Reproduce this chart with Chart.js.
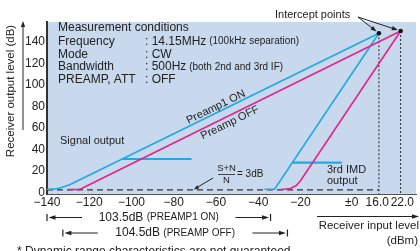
<!DOCTYPE html>
<html><head><meta charset="utf-8">
<script src="https://cdn.jsdelivr.net/npm/chart.js@4/dist/chart.umd.min.js"></script>
<style>html,body{margin:0;padding:0;background:#fff;overflow:hidden}</style>
</head><body>
<canvas id="c" width="420" height="251"></canvas>
<script>
// ---------- data ----------
const X_TICKS = [-140, -120, -100, -80, -60, -40, -20, 0, 16, 22];
const X_TICK_LABELS = ['\u2212140','\u2212120','\u2212100','\u221280','\u221260','\u221240','\u221220','\u00b10','16.0 ',' 22.0'];
const Y_TICKS = [0, 20, 40, 60, 80, 100, 120, 140];

const SIG_ON_X = [-140, -137.2, -134.4, -131.6, -128.8, -126.4, 16];
const SIG_ON_Y = [3.0, 3.1, 3.9, 5.5, 7.7, 10.0, 148.3];
const SIG_OFF_X = [-130.2, -125.0, -123.6, -122.2, 22];
const SIG_OFF_Y = [2.8, 2.8, 3.7, 5.1, 150.4];
const IMD_ON_X = [-37.1, -32.3, 16];
const IMD_ON_Y = [3.0, 3.0, 148.3];
const IMD_OFF_X = [-29.0, -24.8, -22.0, -20.1, 22];
const IMD_OFF_Y = [2.8, 3.7, 6.5, 10.7, 150.4];
const SIG_LEVEL_X = [-104.4, -71.6];
const SIG_LEVEL_Y = 31.2;
const IMD_LEVEL_X = [-23.9, -3.9];
const IMD_LEVEL_Y = 27.8;
const NOISE_X = [-140, 16];
const NOISE_Y = 2.4;
const INTERCEPT_X = [16, 22];
const INTERCEPT_Y = [148.3, 150.4];
const RANGE_ON = [-140, -34.2];
const RANGE_OFF = [-132.5, -26.2];

const COND_LABELS = ['Frequency', 'Mode', 'Bandwidth', 'PREAMP, ATT'];
const COND_VALUES = [': 14.15MHz', ': CW', ': 500Hz', ': OFF'];
const COND_NOTES = ['(100kHz separation)', '', '(both 2nd and 3rd IF)', ''];

// ---------- scale with a broken (piecewise) x axis ----------
const X_KNOT_VALUES = [-140, -20, 0, 16, 22, 26.4];
const X_KNOT_SHARES = [0, 0.6871, 0.8257, 0.8995, 0.9584, 1];
function interp(v, from, to) {
  if (v <= from[0]) return to[0] + (v - from[0]) * (to[1] - to[0]) / (from[1] - from[0]);
  for (let i = 1; i < from.length; i++) {
    if (v <= from[i]) return to[i-1] + (v - from[i-1]) * (to[i] - to[i-1]) / (from[i] - from[i-1]);
  }
  const n = from.length - 1;
  return to[n] + (v - from[n]) * (to[n] - to[n-1]) / (from[n] - from[n-1]);
}
const Linear = Chart.registry.getScale('linear');
class BrokenScale extends Linear {
  getPixelForValue(value) { return this.getPixelForDecimal(interp(value, X_KNOT_VALUES, X_KNOT_SHARES)); }
  getValueForPixel(pixel) { return interp(this.getDecimalForPixel(pixel), X_KNOT_SHARES, X_KNOT_VALUES); }
}
BrokenScale.id = 'broken';
BrokenScale.defaults = Linear.defaults;
Chart.register(BrokenScale);

// ---------- styles ----------
const FONT = "'Liberation Sans', Arial, Helvetica, sans-serif";
const TXT = '#222';
const BLUE = '#1fa9e6';
const PINK = '#e6228c';
const BG = '#c8d9ee';
const f = px => px + 'px ' + FONT;
const pts = (xs, ys) => xs.map((x, i) => ({x, y: Array.isArray(ys) ? ys[i] : ys}));

function arrow(ctx, x1, y1, x2, y2, hl, hw) {
  hl = hl || 6; hw = hw || 2.3;
  const a = Math.atan2(y2 - y1, x2 - x1);
  ctx.beginPath(); ctx.moveTo(x1, y1); ctx.lineTo(x2 - Math.cos(a) * hl * 0.6, y2 - Math.sin(a) * hl * 0.6); ctx.stroke();
  ctx.beginPath();
  ctx.moveTo(x2, y2);
  ctx.lineTo(x2 - hl * Math.cos(a) + hw * Math.sin(a), y2 - hl * Math.sin(a) - hw * Math.cos(a));
  ctx.lineTo(x2 - hl * Math.cos(a) - hw * Math.sin(a), y2 - hl * Math.sin(a) + hw * Math.cos(a));
  ctx.closePath(); ctx.fill();
}
function runs(ctx, x, y, parts, align) {
  let total = 0;
  parts.forEach(p => { ctx.font = f(p[1]); total += ctx.measureText(p[0]).width; });
  let cx = align === 'center' ? x - total / 2 : x;
  ctx.textAlign = 'left';
  parts.forEach(p => { ctx.font = f(p[1]); ctx.fillText(p[0], cx, y); cx += ctx.measureText(p[0]).width; });
}

const bgPlugin = {
  id: 'bg',
  beforeDraw(chart) {
    const a = chart.chartArea, ctx = chart.ctx;
    ctx.save(); ctx.fillStyle = BG; ctx.fillRect(a.left, a.top, a.right - a.left, a.bottom - a.top); ctx.restore();
  }
};

const textPlugin = {
  id: 'texts',
  afterDraw(chart) {
    const ctx = chart.ctx, xs = chart.scales.x, ys = chart.scales.y;
    const X = v => xs.getPixelForValue(v), Y = v => ys.getPixelForValue(v);
    ctx.save();
    ctx.fillStyle = TXT; ctx.strokeStyle = TXT; ctx.lineWidth = 1;
    ctx.textBaseline = 'middle';

    // y title + arrow
    ctx.save(); ctx.translate(11, 91); ctx.rotate(-Math.PI / 2);
    ctx.font = f(11.5); ctx.textAlign = 'center'; ctx.fillText('Receiver output level (dB)', 0, 0);
    ctx.restore();
    arrow(ctx, 23, 130, 23, 21, 6, 2.2);

    // measurement conditions
    ctx.textAlign = 'left';
    ctx.font = f(12); ctx.fillText('Measurement conditions', 58, 28);
    const rowY = [41.5, 54.2, 67, 79.7];
    COND_LABELS.forEach((lab, i) => {
      ctx.font = f(12); ctx.fillText(lab, 58, rowY[i]);
      const parts = [[COND_VALUES[i], 12]];
      if (COND_NOTES[i]) parts.push([' ' + COND_NOTES[i], 10]);
      runs(ctx, 145, rowY[i], parts, 'left');
    });

    // intercept points
    ctx.font = f(11); ctx.textAlign = 'left'; ctx.fillText('Intercept points', 275, 15);
    INTERCEPT_X.forEach((v, i) => {
      const px = X(v), py = Y(INTERCEPT_Y[i]);
      const sx = 358, sy = 17;
      const d = Math.hypot(px - sx, py - sy);
      arrow(ctx, sx, sy, px - (px - sx) / d * 3, py - (py - sy) / d * 3, 6, 2.2);
    });

    // Signal output / 3rd IMD output
    ctx.font = f(11); ctx.textAlign = 'left';
    ctx.fillText('Signal output', 60, 141);
    ctx.fillText('3rd IMD', 327, 170);
    ctx.fillText('output', 327, 181);

    // S+N / N = 3dB
    ctx.textAlign = 'center'; ctx.font = f(9.5);
    ctx.fillText('S+N', 226.5, 168.5);
    ctx.fillText('N', 226.5, 180.5);
    ctx.lineWidth = 0.8; ctx.beginPath(); ctx.moveTo(218, 174.5); ctx.lineTo(235, 174.5); ctx.stroke();
    ctx.textAlign = 'left'; ctx.font = f(10); ctx.fillText('= 3dB', 237, 174.5);
    ctx.lineWidth = 1; arrow(ctx, 213, 178, X(-70.5), Y(NOISE_Y) - 0.5, 5, 2);

    // rotated labels along signal lines
    const lineY = (xsArr, ysArr, px) => {
      const n = xsArr.length;
      const x1 = X(xsArr[n-2]), y1 = Y(ysArr[n-2]), x2 = X(xsArr[n-1]), y2 = Y(ysArr[n-1]);
      return {y: y1 + (px - x1) * (y2 - y1) / (x2 - x1), a: Math.atan2(y2 - y1, x2 - x1)};
    };
    let L = lineY(SIG_ON_X, SIG_ON_Y, 216);
    ctx.save(); ctx.translate(216, L.y - 6); ctx.rotate(L.a); ctx.font = f(11); ctx.textAlign = 'center'; ctx.fillText('Preamp1 ON', 0, 0); ctx.restore();
    L = lineY(SIG_OFF_X, SIG_OFF_Y, 230);
    ctx.save(); ctx.translate(230, L.y + 7.5); ctx.rotate(L.a); ctx.font = f(11); ctx.textAlign = 'center'; ctx.fillText('Preamp OFF', 0, 0); ctx.restore();

    // dynamic range rows
    const rangeRow = (r, y, main, note) => {
      const l = X(r[0]), rr = X(r[1]);
      ctx.lineWidth = 1.2;
      ctx.beginPath(); ctx.moveTo(l, y - 3.5); ctx.lineTo(l, y + 3.5); ctx.moveTo(rr, y - 3.5); ctx.lineTo(rr, y + 3.5); ctx.stroke();
      ctx.lineWidth = 1;
      arrow(ctx, l + 35, y, l + 1.5, y, 7, 2.2);
      arrow(ctx, rr - 35, y, rr - 1.5, y, 7, 2.2);
      runs(ctx, (l + rr) / 2, y, [[main, 12], [note, 10]], 'center');
    };
    rangeRow(RANGE_ON, 217.5, '103.5dB ', '(PREAMP1 ON)');
    rangeRow(RANGE_OFF, 233, '104.5dB ', '(PREAMP OFF)');

    // input level axis caption
    ctx.lineWidth = 1;
    arrow(ctx, 317, 216.5, 419, 216.5, 7, 2.2);
    ctx.font = f(11.5); ctx.textAlign = 'right';
    ctx.fillText('Receiver input level', 419, 226);
    ctx.fillText('(dBm)', 418, 241);

    // footnote
    ctx.textAlign = 'left'; ctx.textBaseline = 'alphabetic'; ctx.font = f(12);
    ctx.fillText('* Dynamic range characteristics are not guaranteed.', 17, 254.5);
    ctx.restore();
  }
};

const base = {pointRadius: 0, tension: 0, fill: false, borderWidth: 1.6};
new Chart(document.getElementById('c'), {
  type: 'line',
  data: {
    datasets: [
      {data: pts(INTERCEPT_X, INTERCEPT_Y), showLine: false, pointRadius: 2.3, pointBackgroundColor: '#111', pointBorderWidth: 0},
      Object.assign({}, base, {data: pts(SIG_ON_X, SIG_ON_Y), borderColor: BLUE}),
      Object.assign({}, base, {data: pts(SIG_OFF_X, SIG_OFF_Y), borderColor: PINK}),
      Object.assign({}, base, {data: pts(IMD_ON_X, IMD_ON_Y), borderColor: BLUE}),
      Object.assign({}, base, {data: pts(IMD_OFF_X, IMD_OFF_Y), borderColor: PINK}),
      Object.assign({}, base, {data: pts(SIG_LEVEL_X, SIG_LEVEL_Y), borderColor: BLUE, borderWidth: 2}),
      Object.assign({}, base, {data: pts(IMD_LEVEL_X, IMD_LEVEL_Y), borderColor: BLUE, borderWidth: 2.4}),
      Object.assign({}, base, {data: pts(NOISE_X, NOISE_Y), borderColor: '#333', borderWidth: 1.1, borderDash: [6, 4]}),
      Object.assign({}, base, {data: pts([INTERCEPT_X[0], INTERCEPT_X[0]], [INTERCEPT_Y[0], -1.4]), borderColor: '#222', borderWidth: 1, borderDash: [2, 2]}),
      Object.assign({}, base, {data: pts([INTERCEPT_X[1], INTERCEPT_X[1]], [INTERCEPT_Y[1], -1.4]), borderColor: '#222', borderWidth: 1, borderDash: [2, 2]})
    ]
  },
  options: {
    responsive: false, animation: false, events: [],
    layout: {padding: {top: 22, left: 0, right: 0, bottom: 0}},
    plugins: {legend: {display: false}, tooltip: {enabled: false}},
    scales: {
      x: {
        type: 'broken', min: -140, max: 26.4,
        grid: {display: false, drawTicks: false},
        border: {display: true, color: '#555', width: 1},
        ticks: {autoSkip: false, maxRotation: 0, minRotation: 0, padding: 1, color: TXT, font: {family: FONT, size: 12},
                callback: (v, i) => X_TICK_LABELS[i]},
        afterBuildTicks: s => { s.ticks = X_TICKS.map(v => ({value: v})); },
        afterFit: s => { s.height = 57; s.paddingLeft = 0; s.paddingRight = 0; }
      },
      y: {
        type: 'linear', min: -1.4, max: 158.8,
        grid: {display: false, drawTicks: false},
        border: {display: true, color: '#333', width: 2},
        ticks: {padding: 2, color: TXT, font: {family: FONT, size: 12}},
        afterBuildTicks: s => { s.ticks = Y_TICKS.map(v => ({value: v})); },
        afterFit: s => { s.width = 47; s.paddingTop = 0; s.paddingBottom = 0; }
      }
    }
  },
  plugins: [bgPlugin, textPlugin]
});
</script>
</body></html>
